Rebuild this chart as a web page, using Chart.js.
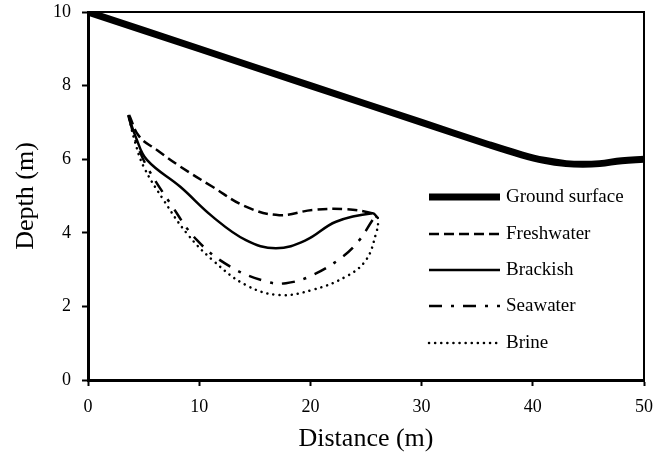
<!DOCTYPE html>
<html>
<head>
<meta charset="utf-8">
<script src="https://cdn.jsdelivr.net/npm/chart.js@4.4.1/dist/chart.umd.min.js"></script>
<style>
  html, body { margin: 0; padding: 0; background: #fff; }
  #wrap { width: 668px; height: 461px; }
</style>
</head>
<body>
<div id="wrap"><canvas id="chart"></canvas></div>
<script>
// values (distance m, depth m)
const groundX = [0, 10, 20, 30, 36, 39, 41, 43, 44.5, 46, 48, 50];
const groundY = [10, 9, 8, 7, 6.4, 6.12, 5.97, 5.88, 5.86, 5.88, 5.96, 6.0];

const freshX = [3.7, 4.6, 6.2, 8.3, 11.2, 14.2, 17.2, 20.2, 23.2, 25.6, 26.0];
const freshY = [7.2, 6.62, 6.25, 5.8, 5.25, 4.71, 4.48, 4.62, 4.64, 4.53, 4.42];

const brackX = [3.6, 4.3, 5.3, 8.3, 11.2, 14.2, 16.9, 19.6, 22.3, 25.6, 26.0];
const brackY = [7.2, 6.6, 5.98, 5.25, 4.44, 3.8, 3.58, 3.8, 4.3, 4.53, 4.42];

const seaX = [3.7, 4.3, 5.3, 7.4, 9.8, 12.8, 16.0, 17.8, 20.2, 22.9, 24.4, 25.6, 26.0];
const seaY = [7.1, 6.5, 5.8, 4.8, 3.8, 3.08, 2.68, 2.63, 2.85, 3.35, 3.8, 4.35, 4.5];

const brineX = [3.7, 4.2, 5.0, 6.8, 8.9, 11.2, 14.2, 17.2, 20.2, 23.2, 25.0, 25.9, 26.1, 25.9];
const brineY = [7.1, 6.5, 5.8, 4.89, 3.98, 3.26, 2.58, 2.31, 2.45, 2.81, 3.26, 3.98, 4.35, 4.5];

const seriesNames = ['Ground surface', 'Freshwater', 'Brackish', 'Seawater', 'Brine'];
const xTicks = [0, 10, 20, 30, 40, 50];
const yTicks = [0, 2, 4, 6, 8, 10];

const SERIF = '"Liberation Serif", "Times New Roman", serif';

function toPoints(xs, ys) {
    return xs.map((x, i) => ({ x: x, y: ys[i] }));
}

function makeSet(label, xs, ys, width, dash, cap) {
    return {
        label: label,
        data: toPoints(xs, ys),
        showLine: true,
        borderColor: '#000',
        backgroundColor: '#000',
        borderWidth: width,
        borderDash: dash,
        borderCapStyle: cap,
        pointRadius: 0,
        tension: 0.4,
        fill: false
    };
}

// legend and frame drawn on top of the plot
const framePlugin = {
    id: 'frame',
    afterDraw(chart) {
        const ctx = chart.ctx;
        const area = chart.chartArea;
        ctx.save();
        ctx.strokeStyle = '#000';
        ctx.lineWidth = 2;
        ctx.beginPath();
        ctx.moveTo(area.left, area.top);
        ctx.lineTo(area.right, area.top);
        ctx.lineTo(area.right, area.bottom);
        ctx.stroke();

        const rowY = [197, 234, 270, 306, 343];
        chart.data.datasets.forEach((ds, i) => {
            ctx.beginPath();
            ctx.lineWidth = ds.borderWidth;
            ctx.setLineDash(ds.borderDash || []);
            ctx.lineCap = ds.borderCapStyle || 'butt';
            ctx.moveTo(429, rowY[i]);
            ctx.lineTo(500, rowY[i]);
            ctx.stroke();
            ctx.setLineDash([]);
            ctx.fillStyle = '#000';
            ctx.font = '19px ' + SERIF;
            ctx.textBaseline = 'middle';
            ctx.textAlign = 'left';
            ctx.fillText(ds.label, 506, rowY[i]);
        });
        ctx.restore();
    }
};

const CONTEXT = document.getElementById('chart').getContext('2d');
const CHART = new Chart(CONTEXT, {
    type: 'scatter',
    data: {
        datasets: [
            makeSet(seriesNames[0], groundX, groundY, 7, [], 'butt'),
            makeSet(seriesNames[1], freshX, freshY, 2.5, [10, 5], 'butt'),
            makeSet(seriesNames[2], brackX, brackY, 2.5, [], 'butt'),
            makeSet(seriesNames[3], seaX, seaY, 2.5, [13, 9, 3, 9], 'butt'),
            makeSet(seriesNames[4], brineX, brineY, 2.5, [0.1, 6], 'round')
        ]
    },
    options: {
        responsive: true,
        maintainAspectRatio: false,
        animation: false,
        layout: { padding: { top: 12, right: 24, left: 0, bottom: 0 } },
        plugins: {
            legend: { display: false },
            tooltip: { enabled: false }
        },
        scales: {
            x: {
                type: 'linear',
                min: 0,
                max: 50,
                afterBuildTicks: (scale) => { scale.ticks = xTicks.map(v => ({ value: v })); },
                afterFit: (scale) => {
                    scale.height = 81;
                    scale.paddingLeft = 0;
                    scale.paddingRight = 0;
                },
                ticks: { color: '#000', font: { family: SERIF, size: 18 }, padding: 10, maxRotation: 0 },
                grid: { drawOnChartArea: false, drawTicks: true, tickLength: 6, tickWidth: 2, color: '#000' },
                border: { color: '#000', width: 3 },
                title: { display: true, text: 'Distance (m)', color: '#000', font: { family: SERIF, size: 26 }, padding: { top: 0, bottom: 6 } }
            },
            y: {
                type: 'linear',
                min: 0,
                max: 10,
                afterBuildTicks: (scale) => { scale.ticks = yTicks.map(v => ({ value: v })); },
                afterFit: (scale) => {
                    scale.width = 88;
                    scale.paddingTop = 0;
                    scale.paddingBottom = 0;
                },
                ticks: { color: '#000', font: { family: SERIF, size: 18 }, padding: 11 },
                grid: { drawOnChartArea: false, drawTicks: true, tickLength: 6, tickWidth: 2, color: '#000' },
                border: { color: '#000', width: 3 },
                title: { display: true, text: 'Depth (m)', color: '#000', font: { family: SERIF, size: 26 }, padding: { top: 11, bottom: 0 } }
            }
        }
    },
    plugins: [framePlugin]
});
</script>
</body>
</html>
